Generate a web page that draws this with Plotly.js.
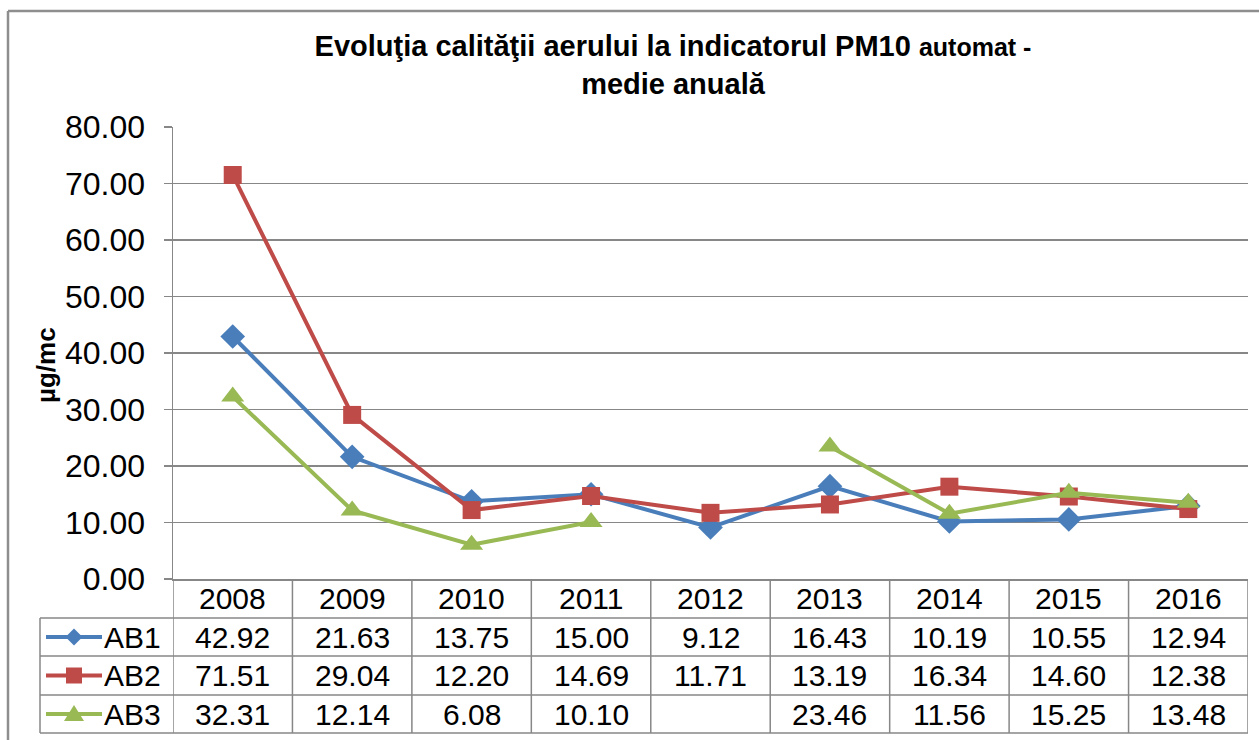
<!DOCTYPE html>
<html>
<head>
<meta charset="utf-8">
<script src="https://cdn.plot.ly/plotly-3.0.1.min.js"></script>
<style>html,body{margin:0;padding:0;background:#fff;}#chart{width:1259px;height:740px;}</style>
</head>
<body>
<div id="chart"></div>
<script>
// ---- data ----
const years = ["2008","2009","2010","2011","2012","2013","2014","2015","2016"];
const seriesNames = ["AB1","AB2","AB3"];
const ab1 = [42.92, 21.63, 13.75, 15.00, 9.12, 16.43, 10.19, 10.55, 12.94];
const ab2 = [71.51, 29.04, 12.20, 14.69, 11.71, 13.19, 16.34, 14.60, 12.38];
const ab3 = [32.31, 12.14, 6.08, 10.10, null, 23.46, 11.56, 15.25, 13.48];
const yTickVals = [0,10,20,30,40,50,60,70,80];
const titleMain = "Evoluţia calităţii aerului la indicatorul PM10";
const titleSmall = "automat -";
const titleLine2 = "medie anuală";
const yTitle = "µg/mc";

// ---- styles ----
const W = 1259, H = 740;
const L = 173, R = 1248, T = 127, B = 579;
const colors = ["#4A7EBB", "#BE4B48", "#98B954"];
const symbols = ["diamond", "square", "triangle-up"];
const msizes = [19, 18, 20];
const grid = "#878787";
const FONT = "Liberation Sans, Arial, sans-serif";
const TABLE_FONT = 30;

const px = x => (x - L) / (R - L);
const py = y => (B - y) / (B - T);

const data = [ab1, ab2, ab3];
const traces = data.map((vals, i) => ({
  type: "scatter", mode: "lines+markers",
  x: years, y: vals, name: seriesNames[i],
  connectgaps: false, cliponaxis: false,
  line: {color: colors[i], width: 4},
  marker: {color: colors[i], symbol: symbols[i], size: msizes[i], line: {width: 0}},
  showlegend: false, hoverinfo: "skip"
}));

// ---- table geometry ----
const rowEdges = [579, 618, 656, 695, 733];
const legendLeft = 40;
const shapes = [];
const ann = [];

// frame
shapes.push({type: "line", xref: "paper", yref: "paper", x0: px(8), x1: px(8), y0: py(11), y1: py(760), line: {color: "#8e8e8e", width: 2.5}});
shapes.push({type: "line", xref: "paper", yref: "paper", x0: px(8), x1: px(1262), y0: py(11), y1: py(11), line: {color: "#8e8e8e", width: 2.5}});

// horizontal table lines
for (let r = 1; r < rowEdges.length; r++) {
  shapes.push({type: "line", xref: "paper", yref: "paper", x0: px(legendLeft), x1: 1, y0: py(rowEdges[r]), y1: py(rowEdges[r]), line: {color: grid, width: 1.5}});
}
// vertical table lines (category boundaries)
for (let c = 0; c <= years.length; c++) {
  shapes.push({type: "line", xref: "x", yref: "paper", x0: c - 0.5, x1: c - 0.5, y0: py(rowEdges[0]), y1: py(rowEdges[4]), line: {color: grid, width: 1.5}});
}
// legend column left edge
shapes.push({type: "line", xref: "paper", yref: "paper", x0: px(legendLeft), x1: px(legendLeft), y0: py(rowEdges[1]), y1: py(rowEdges[4]), line: {color: grid, width: 1.5}});

// header labels
years.forEach((yr, c) => {
  ann.push({xref: "x", yref: "paper", x: c, y: py((rowEdges[0] + rowEdges[1]) / 2), text: yr, showarrow: false,
    xanchor: "center", yanchor: "middle", font: {family: FONT, size: TABLE_FONT, color: "#000"}});
});
// values + legend keys
data.forEach((vals, i) => {
  const yc = (rowEdges[i + 1] + rowEdges[i + 2]) / 2;
  vals.forEach((v, c) => {
    if (v === null) return;
    ann.push({xref: "x", yref: "paper", x: c, y: py(yc), text: v.toFixed(2), showarrow: false,
      xanchor: "center", yanchor: "middle", font: {family: FONT, size: TABLE_FONT, color: "#000"}});
  });
  ann.push({xref: "paper", yref: "paper", x: px(102), y: py(yc), text: seriesNames[i], showarrow: false,
    xanchor: "left", yanchor: "middle", font: {family: FONT, size: TABLE_FONT, color: "#000"}});
  // key line
  shapes.push({type: "line", xref: "paper", yref: "paper", x0: px(46), x1: px(102), y0: py(yc), y1: py(yc), line: {color: colors[i], width: 4}});
  const cx = 74, s = 8.5;
  let path;
  if (i === 0) path = `M${px(cx)},${py(yc - s)} L${px(cx + s)},${py(yc)} L${px(cx)},${py(yc + s)} L${px(cx - s)},${py(yc)} Z`;
  else if (i === 1) path = `M${px(cx - 8)},${py(yc - 8)} L${px(cx + 8)},${py(yc - 8)} L${px(cx + 8)},${py(yc + 8)} L${px(cx - 8)},${py(yc + 8)} Z`;
  else path = `M${px(cx)},${py(yc - 9)} L${px(cx + 10)},${py(yc + 7)} L${px(cx - 10)},${py(yc + 7)} Z`;
  shapes.push({type: "path", xref: "paper", yref: "paper", path: path, fillcolor: colors[i], line: {width: 0}});
});

// y-axis title
ann.push({xref: "paper", yref: "paper", x: px(46), y: py(365), text: "<b>" + yTitle + "</b>", textangle: -90, showarrow: false,
  xanchor: "center", yanchor: "middle", font: {family: FONT, size: 26, color: "#000"}});

const layout = {
  width: W, height: H,
  margin: {l: L, r: W - R, t: T, b: H - B, pad: 0},
  paper_bgcolor: "#fff", plot_bgcolor: "#fff",
  showlegend: false,
  title: {
    text: "<b>" + titleMain + " <span style='font-size:25px'>" + titleSmall + "</span><br>" + titleLine2 + "</b>",
    xref: "container", yref: "container", x: 673 / W, xanchor: "center", y: 1 - 56 / H, yanchor: "middle",
    font: {family: FONT, size: 29, color: "#000"}
  },
  xaxis: {
    type: "category", categoryarray: years, range: [-0.5, years.length - 0.5],
    showticklabels: false, ticks: "", showgrid: false, zeroline: false,
    showline: true, linecolor: grid, linewidth: 1.5, fixedrange: true
  },
  yaxis: {
    range: [0, 80], tickvals: yTickVals, tickformat: ".2f",
    showgrid: true, gridcolor: grid, gridwidth: 1.5, zeroline: false,
    showline: true, linecolor: grid, linewidth: 1.5,
    ticks: "outside", ticklen: 8, tickcolor: grid, tickwidth: 1.5,
    ticklabelstandoff: 12,
    tickfont: {family: FONT, size: 32, color: "#000"}, fixedrange: true
  },
  shapes: shapes,
  annotations: ann
};

Plotly.newPlot("chart", traces, layout, {displayModeBar: false, staticPlot: true});
</script>
</body>
</html>
